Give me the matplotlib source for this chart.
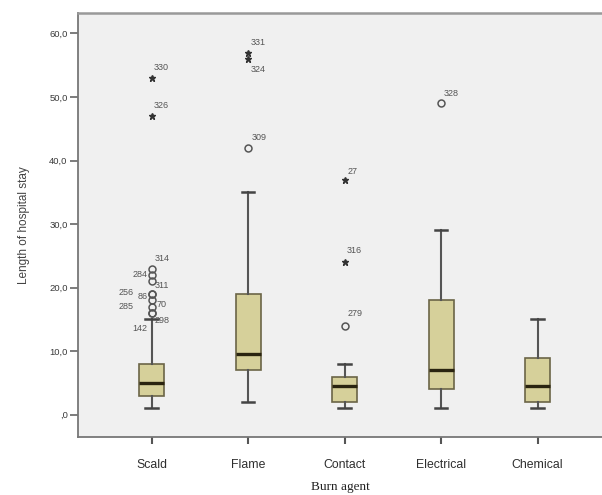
import matplotlib
matplotlib.use("Agg")
import matplotlib.pyplot as plt
from matplotlib.ticker import FuncFormatter

# box statistics per burn agent
categories = ["Scald", "Flame", "Contact", "Electrical", "Chemical"]
q1 = [3, 7, 2, 4, 2]
median = [5, 9.5, 4.5, 7, 4.5]
q3 = [8, 19, 6, 18, 9]
whisker_low = [1, 2, 1, 1, 1]
whisker_high = [15, 35, 8, 29, 15]

# outliers: category index, value, case number, extreme (star) or not (circle)
out_cat = [0, 0, 0, 0, 0, 0, 0, 0, 0, 0, 0, 1, 1, 1, 2, 2, 2, 3]
out_val = [53, 47, 23, 22, 21, 19, 19, 18, 17, 16, 16, 57, 56, 42, 37, 24, 14, 49]
out_id = [330, 326, 314, 284, 311, 256, 86, 70, 285, 298, 142, 331, 324, 309, 27, 316, 279, 328]
out_extreme = [True, True, False, False, False, False, False, False, False, False, False,
               True, True, False, True, True, False, False]

# label offsets in pixels (dx, dy, ha) - purely cosmetic
label_pos = [(2, 10, "left"), (2, 11, "left"), (3, 10, "left"), (-4, 0, "right"),
             (3, -4, "left"), (-18, 2, "right"), (-4, -2, "right"), (5, -4, "left"),
             (-18, 0, "right"), (3, -7, "left"), (-4, -15, "right"),
             (2, 10, "left"), (2, -11, "left"), (3, 10, "left"),
             (3, 8, "left"), (2, 12, "left"), (3, 12, "left"), (2, 10, "left")]

plt.rcParams["font.family"] = ["Liberation Sans", "DejaVu Sans"]

fig = plt.figure(figsize=(6.02, 4.95), dpi=100)
ax = fig.add_axes([78 / 602, 1 - 437 / 495, 1 - 78 / 602, (437 - 12.5) / 495])
ax.set_facecolor("#f0f0f0")

stats = []
for i, c in enumerate(categories):
    stats.append(dict(label=c, med=median[i], q1=q1[i], q3=q3[i],
                      whislo=whisker_low[i], whishi=whisker_high[i], fliers=[]))

ax.bxp(stats, positions=range(len(categories)), widths=0.26, patch_artist=True,
       showfliers=False,
       boxprops=dict(facecolor="#d6d09a", edgecolor="#6b6547", linewidth=1.2),
       medianprops=dict(color="#2a2410", linewidth=2.4),
       whiskerprops=dict(color="#555555", linewidth=1.5),
       capprops=dict(color="#444444", linewidth=1.8),
       capwidths=0.13)

for c, v, n, ext, (dx, dy, ha) in zip(out_cat, out_val, out_id, out_extreme, label_pos):
    if ext:
        ax.plot(c, v, marker="*", ms=5, color="#333333", mec="#333333", ls="none")
    else:
        ax.plot(c, v, marker="o", ms=5, mfc="none", mec="#555555", mew=1.1, ls="none")
    ax.annotate(str(n), (c, v), xytext=(dx, dy), textcoords="offset pixels",
                ha=ha, va="center", fontsize=6.5, color="#555555")

ax.set_xlim(-0.764, 4.667)
ax.set_ylim(-3.5, 63.3)
ax.set_yticks([0, 10, 20, 30, 40, 50, 60])
ax.yaxis.set_major_formatter(FuncFormatter(
    lambda v, p: ",0" if v == 0 else f"{v:.1f}".replace(".", ",")))
ax.set_xticks(range(len(categories)))
ax.set_xticklabels(categories)

ax.tick_params(axis="y", length=6, width=1.2, color="#666666", labelsize=6.8,
               labelcolor="#3a3a3a", pad=1.5)
ax.tick_params(axis="x", length=5, width=1.5, color="#555555", labelsize=8.8,
               labelcolor="#2e2e2e", pad=11)

for s in ["left", "bottom"]:
    ax.spines[s].set_color("#777777")
    ax.spines[s].set_linewidth(1.3)
ax.spines["top"].set_color("#999999")
ax.spines["top"].set_linewidth(1.8)
ax.spines["right"].set_visible(False)

ax.set_ylabel("Length of hospital stay", fontsize=8.5, color="#444444", labelpad=14)
ax.set_xlabel("Burn agent", fontsize=9.5, family=["Liberation Serif"], color="#222222",
              labelpad=7)

fig.savefig("out.png", dpi=100)
